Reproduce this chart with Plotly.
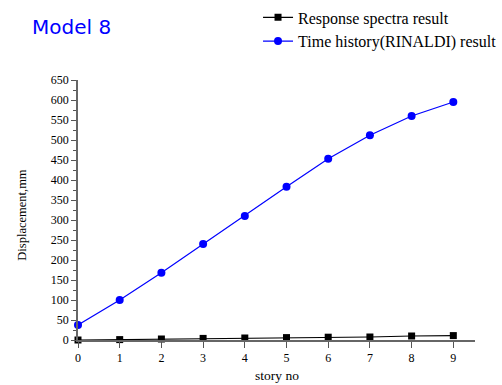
import plotly.graph_objects as go

stories = [0, 1, 2, 3, 4, 5, 6, 7, 8, 9]
response_spectra = [0, 1, 2.5, 4, 5, 6, 7, 7.5, 10, 11]
time_history = [37.5, 100, 168, 240, 310, 383, 453, 512, 560, 595]

fig = go.Figure()
fig.add_trace(go.Scatter(
    x=stories, y=response_spectra, mode="lines+markers",
    name="Response spectra result",
    line=dict(color="black", width=1.2),
    marker=dict(symbol="square", size=7, color="black"),
    cliponaxis=False,
))
fig.add_trace(go.Scatter(
    x=stories, y=time_history, mode="lines+markers",
    name="Time history(RINALDI) result",
    line=dict(color="#0000ff", width=1.2),
    marker=dict(symbol="circle", size=8, color="#0000ff"),
    cliponaxis=False,
))

fig.update_layout(
    width=502, height=385,
    margin=dict(l=78, r=27, t=80, b=45, autoexpand=False),
    paper_bgcolor="white", plot_bgcolor="white",
    font=dict(family="Liberation Serif", color="black", size=12),
    showlegend=True,
    legend=dict(x=0.514, y=0.999, xanchor="left", yanchor="top",
                xref="container", yref="container",
                font=dict(family="Liberation Serif", size=16, color="black"),
                bgcolor="rgba(0,0,0,0)", tracegroupgap=0),
)
fig.add_annotation(text="Model 8", xref="paper", yref="paper",
                   x=-0.122, y=1.204, xanchor="left", yanchor="middle",
                   showarrow=False,
                   font=dict(family="DejaVu Sans", size=20, color="#0000ff"))
fig.add_annotation(text="Displacement,mm", xref="paper", yref="paper",
                   x=-0.141, y=0.482, xanchor="center", yanchor="middle",
                   textangle=-90, showarrow=False,
                   font=dict(family="Liberation Serif", size=12.5, color="black"))
fig.add_annotation(text="story no", xref="paper", yref="paper",
                   x=0.5, y=-0.136, xanchor="center", yanchor="middle",
                   showarrow=False,
                   font=dict(family="Liberation Serif", size=13.5, color="black"))

fig.update_xaxes(
    range=[0, 9.52], tickmode="array", tickvals=stories,
    ticks="outside", ticklen=6, tickcolor="#555", tickwidth=1.2,
    showline=True, linecolor="#666", linewidth=1.5,
    showgrid=False, zeroline=False, automargin=False,
    tickfont=dict(family="Liberation Serif", size=12),
)
fig.update_yaxes(
    range=[0, 650], tick0=0, dtick=50,
    ticks="outside", ticklen=5, tickcolor="#555", tickwidth=1.2,
    minor=dict(dtick=25, ticks="outside", ticklen=3, tickcolor="#555", tickwidth=1),
    showline=True, linecolor="#666", linewidth=1.5,
    showgrid=False, zeroline=False, automargin=False,
    tickfont=dict(family="Liberation Serif", size=12),
)

fig.write_html("out.html", config={"displayModeBar": False},
               post_script="document.body.style.margin='0';")
